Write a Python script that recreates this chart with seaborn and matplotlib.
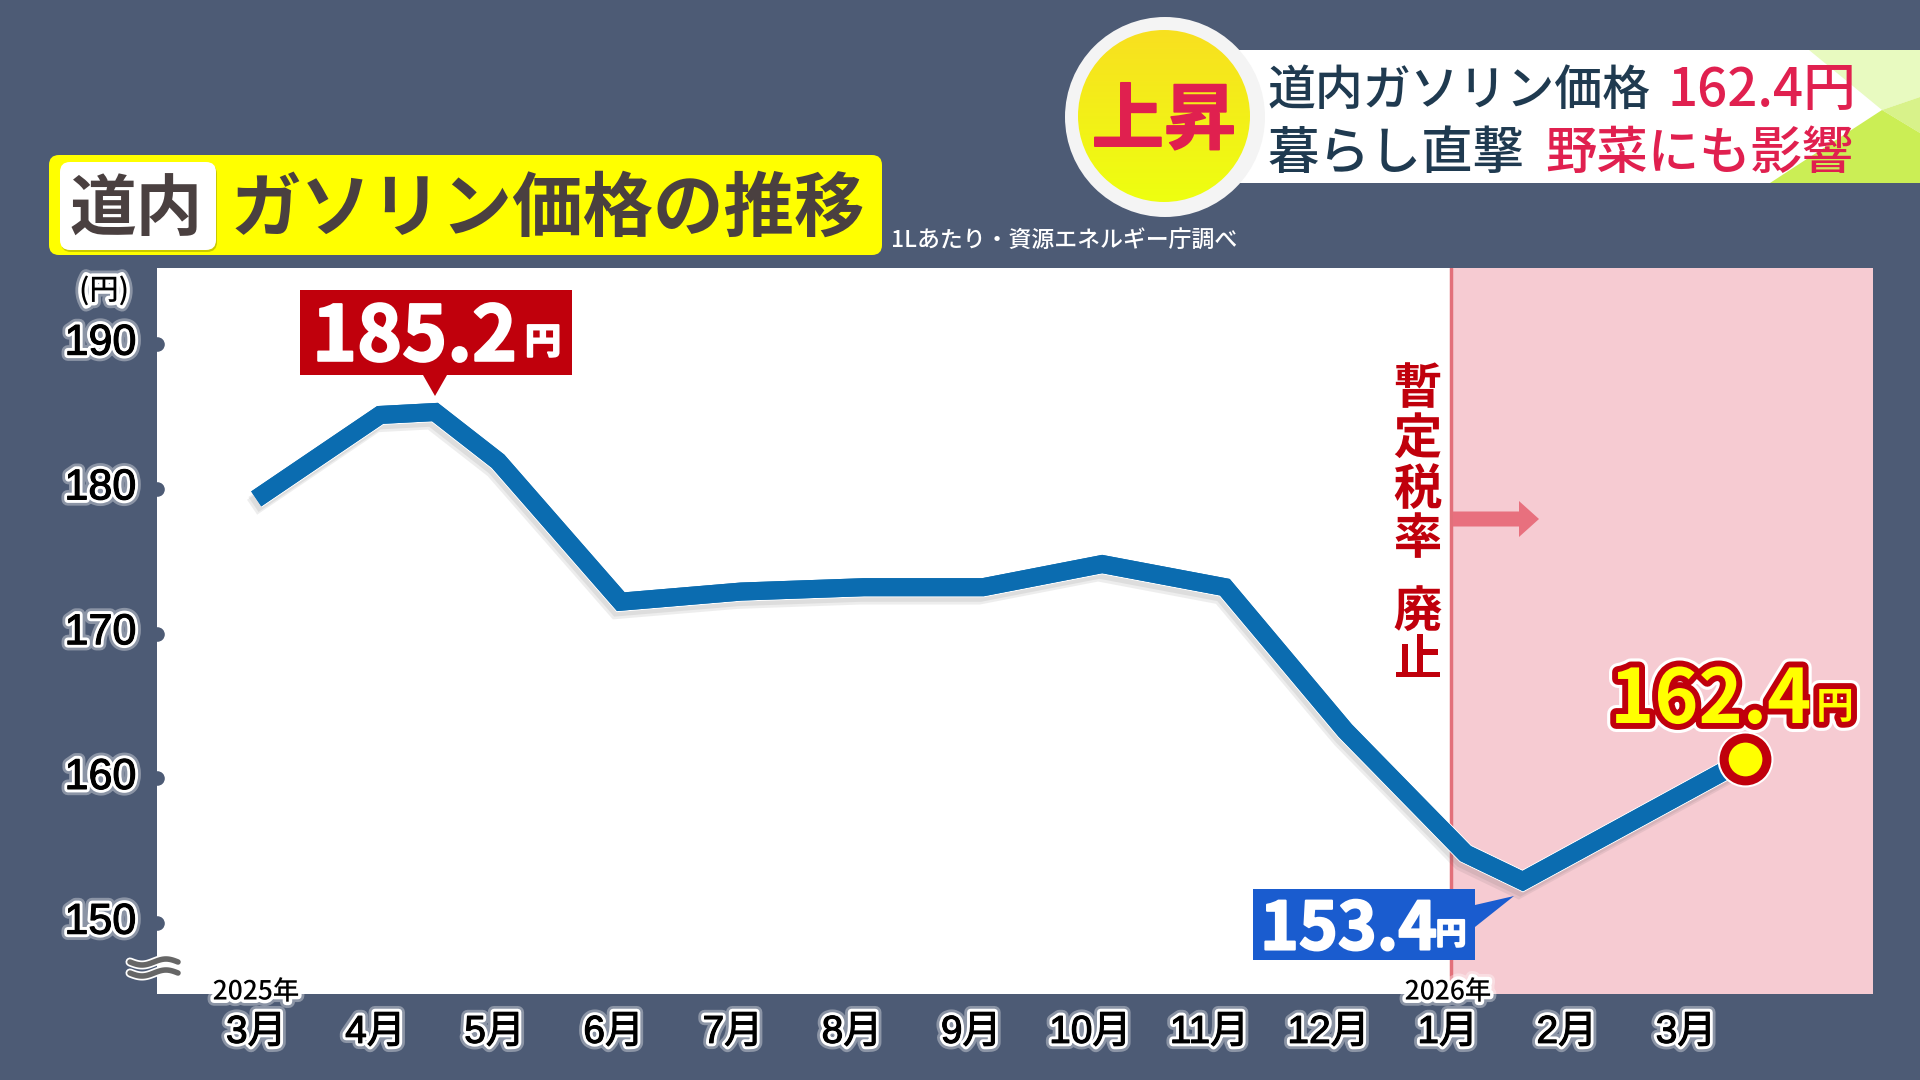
import numpy as np
import matplotlib
matplotlib.use('Agg')
import matplotlib.pyplot as plt
import matplotlib.patheffects as pe
from matplotlib.patches import Circle, FancyBboxPatch, FancyArrow, Polygon, Rectangle
from matplotlib.transforms import ScaledTranslation
import seaborn as sns

# data
month_pos = [0, 1.04, 1.5, 2.03, 3.06, 4.07, 5.1, 6.1, 7.1, 8.13, 9.14, 10.15, 10.63, 12.5]
prices = [179.3, 185.1, 185.3, 181.9, 172.2, 172.9, 173.2, 173.2, 174.8, 173.2, 163.3, 154.8, 152.9, 161.3]
month_labels = ['3月', '4月', '5月', '6月', '7月', '8月', '9月', '10月', '11月', '12月', '1月', '2月', '3月']
y_ticks = [150, 160, 170, 180, 190]
year_labels = {0: '2025年', 10: '2026年'}
tax_change = 10.03

BG = '#4d5b75'
LINE = '#0b6cb0'
PINK = '#f6cbd2'
RED = '#c0000c'
BLUE = '#1a5ccf'
YEL = '#ffff00'
PINKRED = '#e0204f'
NAVY = '#1f3a50'
BROWN = '#4a4040'

sns.set_theme(style='white')
plt.rcParams['font.family'] = ['Noto Sans CJK JP', 'DejaVu Sans']
TICK_FONT = ['Liberation Sans', 'Noto Sans CJK JP']

W, H = 1920, 1080
fig = plt.figure(figsize=(19.2, 10.8), dpi=100, facecolor=BG)

# main chart, placed in pixels
L, R, T, B = 157, 1873, 268, 994
ax = fig.add_axes([L / W, 1 - B / H, (R - L) / W, (B - T) / H], facecolor='white')
glow = [pe.withStroke(linewidth=9, foreground='white', alpha=0.35),
        pe.withStroke(linewidth=5, foreground='white')]
tick_fx = glow + [pe.withStroke(linewidth=0.8, foreground='black')]

ax.axvspan(tax_change, 14, color=PINK, lw=0, zorder=0)
ax.axvline(tax_change, color='#e2707a', lw=2.5, zorder=1)

sns.lineplot(x=month_pos, y=prices, ax=ax, sort=False, color=LINE, lw=13, errorbar=None,
             solid_joinstyle='miter', solid_capstyle='butt', zorder=3,
             path_effects=[pe.SimpleLineShadow(offset=(-3, -6), shadow_color='#555555', alpha=0.10),
                           pe.SimpleLineShadow(offset=(-2, -4), shadow_color='#555555', alpha=0.10),
                           pe.withStroke(linewidth=14.5, foreground='white'),
                           pe.Normal()])
sns.scatterplot(x=month_pos[-1:], y=prices[-1:], ax=ax, s=950, color=YEL, edgecolor=RED,
                linewidth=6.5, zorder=4, clip_on=False,
                path_effects=[pe.withStroke(linewidth=9.5, foreground='white')])

ax.set_xlim(-0.833, 13.57)
ax.set_ylim(145.1, 195.25)
ax.set_xticks(range(len(month_labels)), month_labels)
ax.set_yticks(y_ticks)
ax.tick_params(axis='x', length=0, pad=15, labelsize=28)
ax.tick_params(axis='y', length=0, pad=15, labelsize=31)
for lab in ax.get_xticklabels() + ax.get_yticklabels():
    lab.set_color('black')
    lab.set_family(TICK_FONT)
    lab.set_path_effects(tick_fx)
# y labels sit a bit above their dots in the original
up = ScaledTranslation(0, 3.5 / 72, fig.dpi_scale_trans)
for lab in ax.get_yticklabels():
    lab.set_transform(lab.get_transform() + up)
for s in ax.spines.values():
    s.set_visible(False)
ax.scatter([0] * len(y_ticks), y_ticks, transform=ax.get_yaxis_transform(), s=90, color=BG,
           clip_on=True, zorder=2)

# overlay in pixel coordinates for the captions
ov = fig.add_axes([0, 0, 1, 1], facecolor='none')
ov.set_xlim(0, W)
ov.set_ylim(H, 0)
ov.axis('off')


def txt(x, y, s, size, color='black', ha='center', weight='bold', effects=None, **kw):
    t = ov.text(x, y, s, fontsize=size, color=color, ha=ha, va='center', fontweight=weight, **kw)
    if effects:
        t.set_path_effects(effects)
    return t


# title bar
ov.add_patch(FancyBboxPatch((55, 161), 821, 88, boxstyle='round,pad=6,rounding_size=10',
                            fc=YEL, ec='none'))
ov.add_patch(FancyBboxPatch((66, 169), 146, 78, boxstyle='round,pad=5,rounding_size=10',
                            fc='#c9c900', ec='none'))
ov.add_patch(FancyBboxPatch((65, 167), 146, 78, boxstyle='round,pad=5,rounding_size=10',
                            fc='white', ec='none'))
txt(136, 211, '道内', 48, BROWN)
txt(231, 210, 'ガソリン価格の推移', 50.8, BROWN, ha='left')
txt(891, 240, '1Lあたり・資源エネルギー庁調べ', 16.5, 'white', ha='left', weight='medium')

# top right banner
ov.add_patch(Rectangle((1225, 50), 695, 133, fc='white', ec='none'))
ov.add_patch(Polygon([(1809, 50), (1920, 50), (1920, 97), (1882, 110)], fc='#e8fac0', ec='none'))
ov.add_patch(Polygon([(1882, 110), (1920, 97), (1920, 133)], fc='#d8f28a', ec='none'))
ov.add_patch(Polygon([(1882, 110), (1920, 133), (1920, 183), (1770, 183)], fc='#cbee55', ec='none'))
ov.add_patch(Circle((1165, 117), 100, fc='#f4f4f4', ec='none'))
yellow_disc = Circle((1164, 116), 86, fc='none', ec='none')
ov.add_patch(yellow_disc)
grad = np.linspace(0, 1, 64)[:, None]
img = ov.imshow(grad, extent=(1078, 1250, 202, 30), origin='upper', aspect='auto', zorder=1,
                cmap=matplotlib.colors.LinearSegmentedColormap.from_list('y', ['#f8e020', '#eeff10']))
img.set_clip_path(yellow_disc)
ov.set_xlim(0, W)
ov.set_ylim(H, 0)
txt(1164, 122, '上昇', 52, PINKRED, zorder=3, effects=[pe.withStroke(linewidth=1.2, foreground=PINKRED)])
txt(1268, 91, '道内ガソリン価格', 34.5, NAVY, ha='left', weight='medium', zorder=3)
txt(1667, 91, '162.4円', 38, PINKRED, ha='left', weight='medium', zorder=3)
txt(1268, 154, '暮らし直撃', 37, NAVY, ha='left', weight='medium', zorder=3)
txt(1545, 154, '野菜にも影響', 37, PINKRED, ha='left', weight='medium', zorder=3)

# axis extras
txt(104, 291, '(円)', 21, weight='medium', effects=glow)
txt(256, 992, year_labels[0], 19, weight='medium', effects=glow)
txt(1448, 992, year_labels[10], 19, weight='medium', effects=glow)

xs = np.linspace(130, 178, 40)
for y0 in (962, 973):
    ov.plot(xs, y0 + 3 * np.sin((xs - 130) / 48 * 2 * np.pi), color='#666666', lw=4,
            path_effects=[pe.withStroke(linewidth=6.5, foreground='white')])

# 暫定税率 廃止
tax_chars = ['暫', '定', '税', '率', '廃', '止']
tax_y = [389, 439, 490, 539, 612, 661]
for ch, yy in zip(tax_chars, tax_y):
    txt(1418, yy, ch, 35, RED, effects=[pe.withStroke(linewidth=3.5, foreground='white')])
ov.add_patch(FancyArrow(1453, 519, 86, 0, width=15, head_width=36, head_length=20,
                        length_includes_head=True, fc='#e8707e', ec='none'))

# callouts
bold_white = [pe.withStroke(linewidth=1.5, foreground='white')]
ov.add_patch(Rectangle((300, 290), 272, 85, fc=RED, ec='none'))
ov.add_patch(Polygon([(423, 375), (447, 375), (435, 396)], fc=RED, ec='none'))
txt(312, 338, '185.2', 55, 'white', ha='left', effects=bold_white)
txt(543, 343, '円', 26, 'white', effects=bold_white)

ov.add_patch(Rectangle((1253, 889), 222, 71, fc=BLUE, ec='none'))
ov.add_patch(Polygon([(1475, 905), (1475, 927), (1514, 896)], fc=BLUE, ec='none'))
txt(1260, 930, '153.4', 47.5, 'white', ha='left', effects=bold_white)
txt(1451, 935, '円', 22, 'white', effects=bold_white)

yellow_fx = [pe.withStroke(linewidth=13, foreground='white'), pe.withStroke(linewidth=8.5, foreground=RED)]
txt(1610, 701, '162.4', 54, YEL, ha='left', effects=yellow_fx)
txt(1835, 707, '円', 27, YEL, effects=yellow_fx)

fig.savefig('out.png', dpi=100, facecolor=BG)
